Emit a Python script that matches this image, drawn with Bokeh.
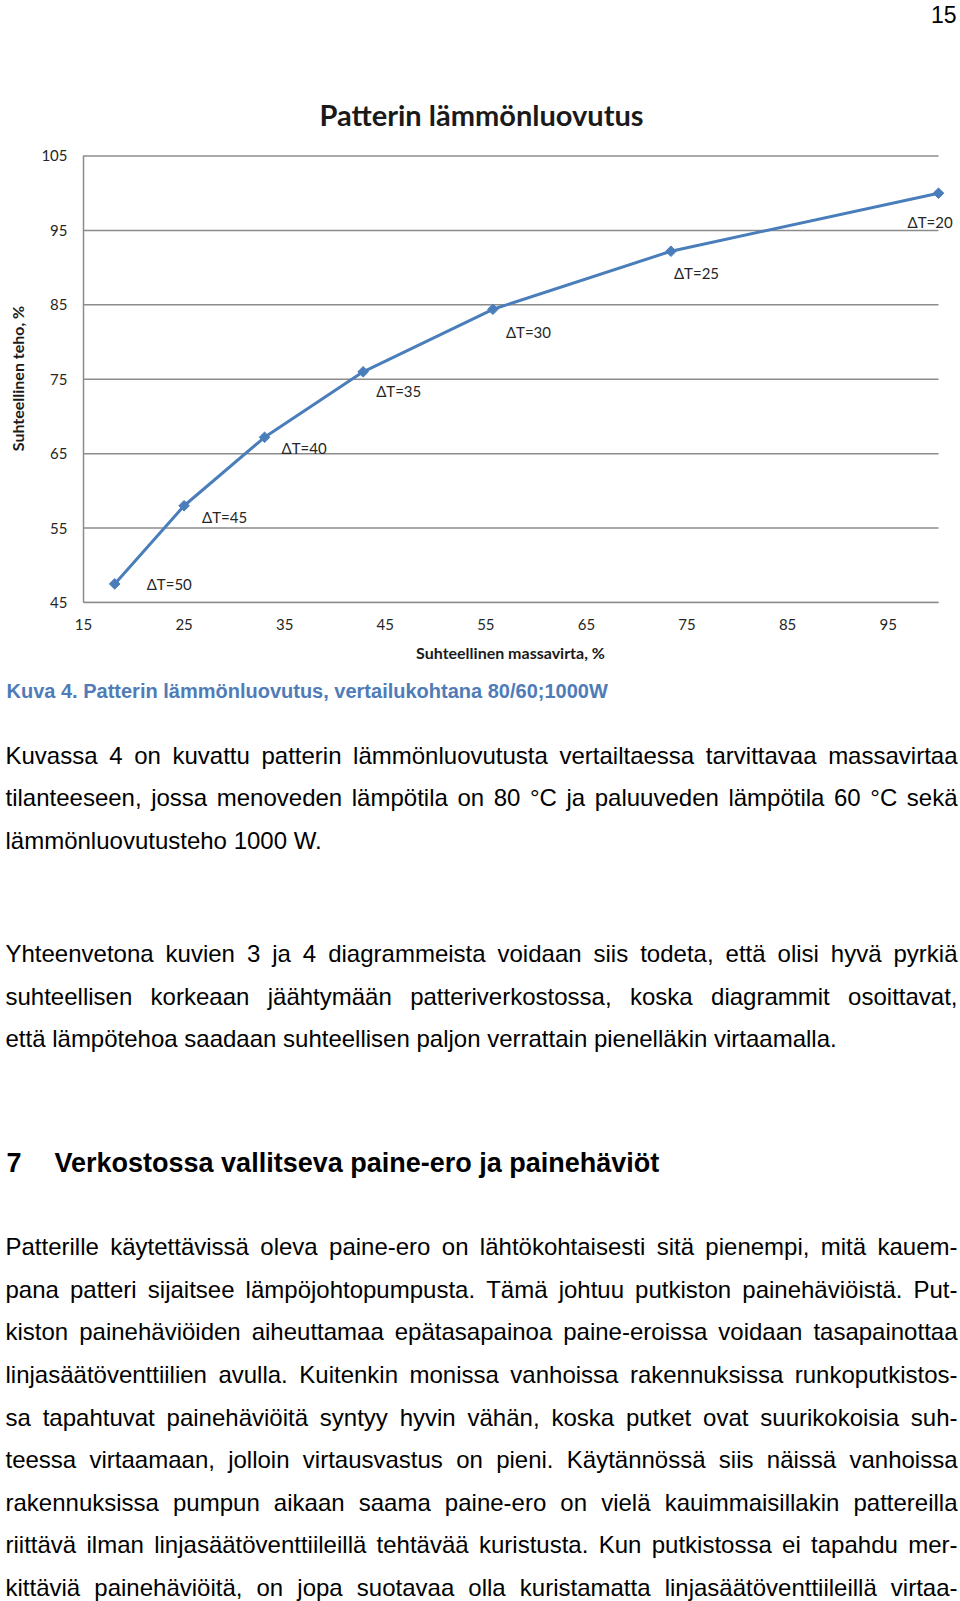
import numpy as np
from bokeh.plotting import figure
from bokeh.models import Range1d, FixedTicker, ColumnDataSource, LabelSet
from bokeh.core.properties import value
from bokeh.embed import file_html
from bokeh.resources import INLINE

# ---------------- data ----------------
mass_flow = [18.1, 25.0, 33.0, 42.8, 55.7, 73.4, 100.0]   # Suhteellinen massavirta, %
power = [47.5, 58.0, 67.2, 76.0, 84.4, 92.2, 100.0]       # Suhteellinen teho, %
delta_t = [50, 45, 40, 35, 30, 25, 20]
point_labels = ["ΔT=%d" % d for d in delta_t]
x_ticks = [15, 25, 35, 45, 55, 65, 75, 85, 95]
y_ticks = [45, 55, 65, 75, 85, 95, 105]

chart_title = "Patterin lämmönluovutus"
x_title = "Suhteellinen massavirta, %"
y_title = "Suhteellinen teho, %"
page_number = "15"
caption = "Kuva 4. Patterin lämmönluovutus, vertailukohtana 80/60;1000W"

para1 = [
    "Kuvassa 4 on kuvattu patterin lämmönluovutusta vertailtaessa tarvittavaa massavirtaa",
    "tilanteeseen, jossa menoveden lämpötila on 80 °C ja paluuveden lämpötila 60 °C sekä",
    "lämmönluovutusteho 1000 W.",
]
para2 = [
    "Yhteenvetona kuvien 3 ja 4 diagrammeista voidaan siis todeta, että olisi hyvä pyrkiä",
    "suhteellisen korkeaan jäähtymään patteriverkostossa, koska diagrammit osoittavat,",
    "että lämpötehoa saadaan suhteellisen paljon verrattain pienelläkin virtaamalla.",
]
heading_num = "7"
heading_text = "Verkostossa vallitseva paine-ero ja painehäviöt"
para3 = [
    "Patterille käytettävissä oleva paine-ero on lähtökohtaisesti sitä pienempi, mitä kauem-",
    "pana patteri sijaitsee lämpöjohtopumpusta. Tämä johtuu putkiston painehäviöistä. Put-",
    "kiston painehäviöiden aiheuttamaa epätasapainoa paine-eroissa voidaan tasapainottaa",
    "linjasäätöventtiilien avulla. Kuitenkin monissa vanhoissa rakennuksissa runkoputkistos-",
    "sa tapahtuvat painehäviöitä syntyy hyvin vähän, koska putket ovat suurikokoisia suh-",
    "teessa virtaamaan, jolloin virtausvastus on pieni. Käytännössä siis näissä vanhoissa",
    "rakennuksissa pumpun aikaan saama paine-ero on vielä kauimmaisillakin pattereilla",
    "riittävä ilman linjasäätöventtiileillä tehtävää kuristusta. Kun putkistossa ei tapahdu mer-",
    "kittäviä painehäviöitä, on jopa suotavaa olla kuristamatta linjasäätöventtiileillä virtaa-",
]

# ---------------- style ----------------
label_dx = [32, 18, 17, 13, 13, 3, -31]     # data label offsets in px (right)
label_dy = [0, 11, 11, 19, 23, 22, 29]      # data label offsets in px (down)
BLUE = "#4A7EBB"
GRID = "#8c8c8c"
CHART_FONT = "Lato"
BODY_FONT = "Liberation Sans"

W = 960
HEAD_H = 140          # header strip: page number + chart title
CHART_BOTTOM = 640    # page y where the chart figure ends
PAGE_H = 1601


def page_figure(y_top, y_bottom):
    f = figure(width=W, height=y_bottom - y_top, x_range=Range1d(0, W),
               y_range=Range1d(y_bottom, y_top), output_backend="svg",
               toolbar_location=None, min_border=0,
               x_axis_location=None, y_axis_location=None)
    f.grid.visible = False
    f.outline_line_color = None
    f.background_fill_color = "white"
    f.border_fill_color = "white"
    return f


# ---------------- header ----------------
h = page_figure(0, HEAD_H)
h.text(x=[956], y=[14], text=[page_number], text_font=value(BODY_FONT), text_font_size="23px",
       text_align="right", text_baseline="middle", text_color="#000000")
h.text(x=[481], y=[114], text=[chart_title], text_font=value(CHART_FONT),
       text_font_size="29px", text_font_style="bold", text_align="center",
       text_baseline="middle", text_color="#1a1a1a")

# ---------------- chart ----------------
L, T, B = 83, 154, 602            # frame edges in page px
PX_PER_X = (937.7 - 82.7) / 85.0  # x scale of the reference chart
X0, X1 = 15, 15 + (W - L) / PX_PER_X
Y0, Y1 = 45, 105.2
CH = CHART_BOTTOM - HEAD_H

p = figure(width=W, height=CH, x_range=Range1d(X0, X1), y_range=Range1d(Y0, Y1),
           output_backend="svg", toolbar_location=None,
           min_border_left=L, min_border_right=0,
           min_border_top=T - HEAD_H, min_border_bottom=CHART_BOTTOM - B)
p.outline_line_color = None
p.grid.visible = False
p.background_fill_color = "white"
p.border_fill_color = "white"

p.segment(x0=[x_ticks[0]] * len(y_ticks), x1=[100] * len(y_ticks), y0=y_ticks, y1=y_ticks,
          line_color=GRID, line_width=1.5)

p.xaxis.ticker = FixedTicker(ticks=x_ticks)
p.yaxis.ticker = FixedTicker(ticks=y_ticks)
p.xaxis.bounds = (15, 100)
p.yaxis.bounds = (45, 105)
p.axis.major_tick_line_color = None
p.axis.minor_tick_line_color = None
p.axis.axis_line_color = GRID
p.axis.axis_line_width = 1.5
p.axis.major_label_text_font = CHART_FONT
p.axis.major_label_text_font_size = "15px"
p.axis.major_label_text_color = "#262626"
p.yaxis.major_label_standoff = 10
p.xaxis.major_label_standoff = 10
p.yaxis.axis_label = y_title
p.yaxis.axis_label_text_font = CHART_FONT
p.yaxis.axis_label_text_font_style = "bold"
p.yaxis.axis_label_text_font_size = "16px"
p.yaxis.axis_label_text_color = "#1a1a1a"
p.yaxis.axis_label_standoff = 11

src = ColumnDataSource(dict(x=mass_flow, y=power, label=point_labels,
                            dx=label_dx, dy=[-d for d in label_dy]))
p.line("x", "y", source=src, line_color=BLUE, line_width=3)
p.scatter("x", "y", source=src, marker="square", size=7.5, angle=np.pi / 4,
          fill_color=BLUE, line_color=BLUE)
p.add_layout(LabelSet(x="x", y="y", text="label", source=src, x_offset="dx", y_offset="dy",
                      text_font=value(CHART_FONT), text_font_size="15px",
                      text_align="left", text_baseline="middle", text_color="#262626"))

# ---------------- text part of the page ----------------
q = page_figure(CHART_BOTTOM, PAGE_H)

# x-axis title of the chart (sits just below the chart figure)
q.text(x=[510], y=[651.5], text=[x_title], text_font=value(CHART_FONT), text_font_size="16px",
       text_font_style="bold", text_align="center", text_baseline="middle",
       text_color="#1a1a1a")

ARIAL = {" ": 278, ",": 278, "-": 333, ".": 278, "/": 278, ":": 278, ";": 278, "°": 400,
         "i": 222, "j": 222, "l": 222, "f": 278, "t": 278, "r": 333, "c": 500, "k": 500,
         "s": 500, "v": 500, "x": 500, "y": 500, "z": 500, "m": 833, "w": 722,
         "K": 667, "P": 667, "T": 611, "Y": 667, "V": 667, "C": 722, "W": 944, "L": 556}


def tw(s, size):
    return sum(ARIAL.get(c, 556) for c in s) * size / 1000.0


BODY_SIZE = 24
LX, RX = 5, 957
left_x, left_y, left_t = [], [], []
right_x, right_y, right_t = [], [], []


def add_line(line, yc, justify):
    words = line.split(" ")
    if not justify or len(words) == 1:
        left_x.append(LX); left_y.append(yc); left_t.append(line)
        return
    widths = [tw(w, BODY_SIZE) for w in words]
    gap = (RX - LX - sum(widths)) / (len(words) - 1)
    x = LX
    for w, wd in zip(words[:-1], widths[:-1]):
        left_x.append(x); left_y.append(yc); left_t.append(w)
        x += wd + gap
    right_x.append(RX); right_y.append(yc); right_t.append(words[-1])


STEP = 42.75
for i, line in enumerate(para1):
    add_line(line, 754.7 + i * STEP, i < len(para1) - 1)
for i, line in enumerate(para2):
    add_line(line, 952.9 + i * STEP, i < len(para2) - 1)
for i, line in enumerate(para3):
    add_line(line, 1246.0 + i * 42.64, True)

common = dict(text_font=value(BODY_FONT), text_font_size="%dpx" % BODY_SIZE,
              text_baseline="middle", text_color="#000000")
q.text(x=left_x, y=left_y, text=left_t, text_align="left", **common)
q.text(x=right_x, y=right_y, text=right_t, text_align="right", **common)

q.text(x=[6], y=[690], text=[caption], text_font=value(BODY_FONT), text_font_size="20px",
       text_font_style="bold", text_baseline="middle", text_align="left", text_color="#4f7cb8")
q.text(x=[6, 54], y=[1162, 1162], text=[heading_num, heading_text], text_font=value(BODY_FONT),
       text_font_size="27px", text_font_style="bold", text_baseline="middle",
       text_align="left", text_color="#000000")

open("out.html", "w").write(file_html([h, p, q], INLINE))
